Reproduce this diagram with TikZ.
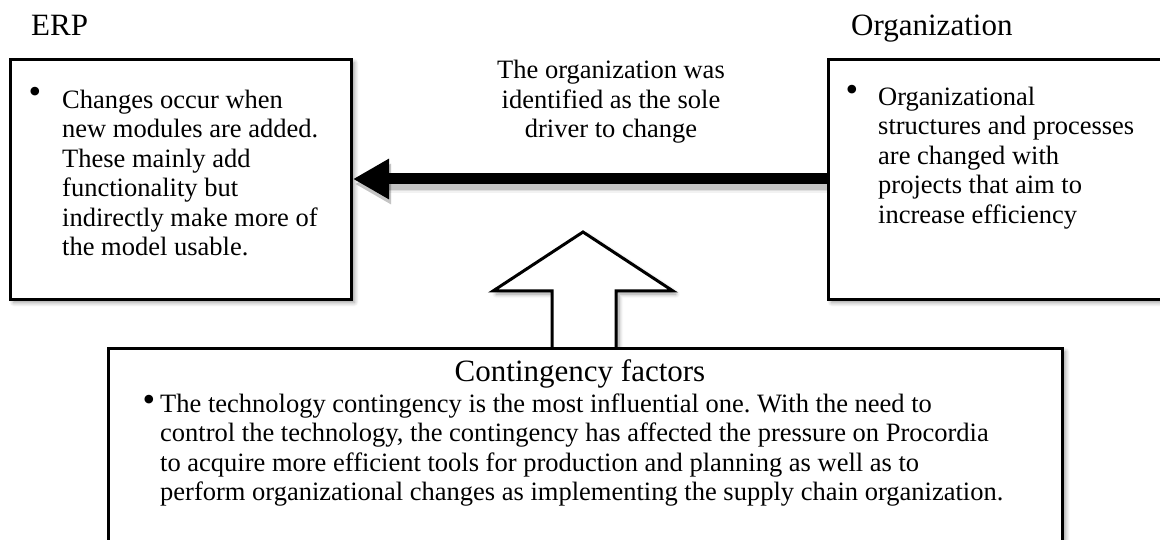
\documentclass[tikz,border=0pt]{standalone}
\usepackage{fontspec}
\setmainfont{Liberation Serif}
\usetikzlibrary{arrows.meta,shadows.blur,calc}
\frenchspacing

\begin{document}
\begin{tikzpicture}[x=1pt,y=-1pt,
  frame/.style={draw=black, line width=3pt, fill=white, inner sep=0pt,
    blur shadow={shadow xshift=3pt, shadow yshift=-3pt, shadow blur steps=6,
      shadow opacity=40, shadow blur radius=4pt}},
  heading/.style={font=\fontsize{31}{34}\selectfont, inner sep=0pt},
  body/.style={font=\fontsize{26.5}{29.5}\selectfont, inner sep=0pt, align=left},
  caption/.style={font=\fontsize{26.5}{29.5}\selectfont, inner sep=0pt, align=center},
  dot/.style={font=\fontsize{36}{36}\selectfont, inner sep=0pt, anchor=center},
]
\useasboundingbox (0,0) rectangle (1160,540);

% headings above the two upper boxes
\node[heading, anchor=base west] (erphead) at (31,36) {ERP};
\node[heading, anchor=base west] (orghead) at (851,36) {Organization};

% the two upper boxes
\node[frame, anchor=north west, minimum width=341pt, minimum height=240pt] (erp) at (9,58) {};
\node[frame, anchor=north west, minimum width=350pt, minimum height=240pt] (org) at (827,58) {};

% thick arrow from Organization to ERP, with a soft shadow
\foreach \w/\o in {19/0.05, 15/0.08, 12/0.12}
  \draw[line width=\w pt, black, opacity=\o, transform canvas={shift={(2pt,-5pt)}},
        -{Triangle[length=36pt,width=38pt]}] (org.west |- 0,179) -- (erp.east |- 0,179);
\draw[line width=11pt, black, -{Triangle[length=36pt,width=38pt]}]
  (org.west |- 0,179) -- (erp.east |- 0,179);

% caption over the arrow (anchored at the baseline of its last line)
\node[caption, anchor=base] (why) at (611,138)
  {The organization was\\identified as the sole\\driver to change};

% block arrow rising from the contingency box
\coordinate (tip) at (583,232);
\draw[line width=3pt, fill=white, line join=miter,
  blur shadow={shadow xshift=3pt, shadow yshift=-3pt, shadow blur steps=6,
    shadow opacity=40, shadow blur radius=4pt}]
  (tip) -- (673,291) -- (616,291) -- (616,352) -- (552,352) -- (552,291) -- (493,291) -- cycle;

% contingency box
\node[frame, anchor=north west, minimum width=954pt, minimum height=220pt] (cont) at (107,347) {};
\node[heading, anchor=base] (conthead) at (580,381) {Contingency factors};

% box texts and bullets
\node[dot] (erpdot) at (35,95) {•};
\node[body, anchor=north west] (erptext) at (62,86)
  {\rule{0pt}{22pt}Changes occur when\\new modules are added.\\These mainly add\\functionality but\\indirectly make more of\\the model usable.};
\node[dot] (orgdot) at (852,93) {•};
\node[body, anchor=north west] (orgtext) at (878,83)
  {\rule{0pt}{22pt}Organizational\\structures and processes\\are changed with\\projects that aim to\\increase efficiency};
\node[dot] (contdot) at (149,403) {•};
\node[body, anchor=north west] (conttext) at (160,390)
  {\rule{0pt}{22pt}The technology contingency is the most influential one. With the need to\\control the technology, the contingency has affected the pressure on Procordia\\to acquire more efficient tools for production and planning as well as to\\perform organizational changes as implementing the supply chain organization.};
\end{tikzpicture}
\end{document}
